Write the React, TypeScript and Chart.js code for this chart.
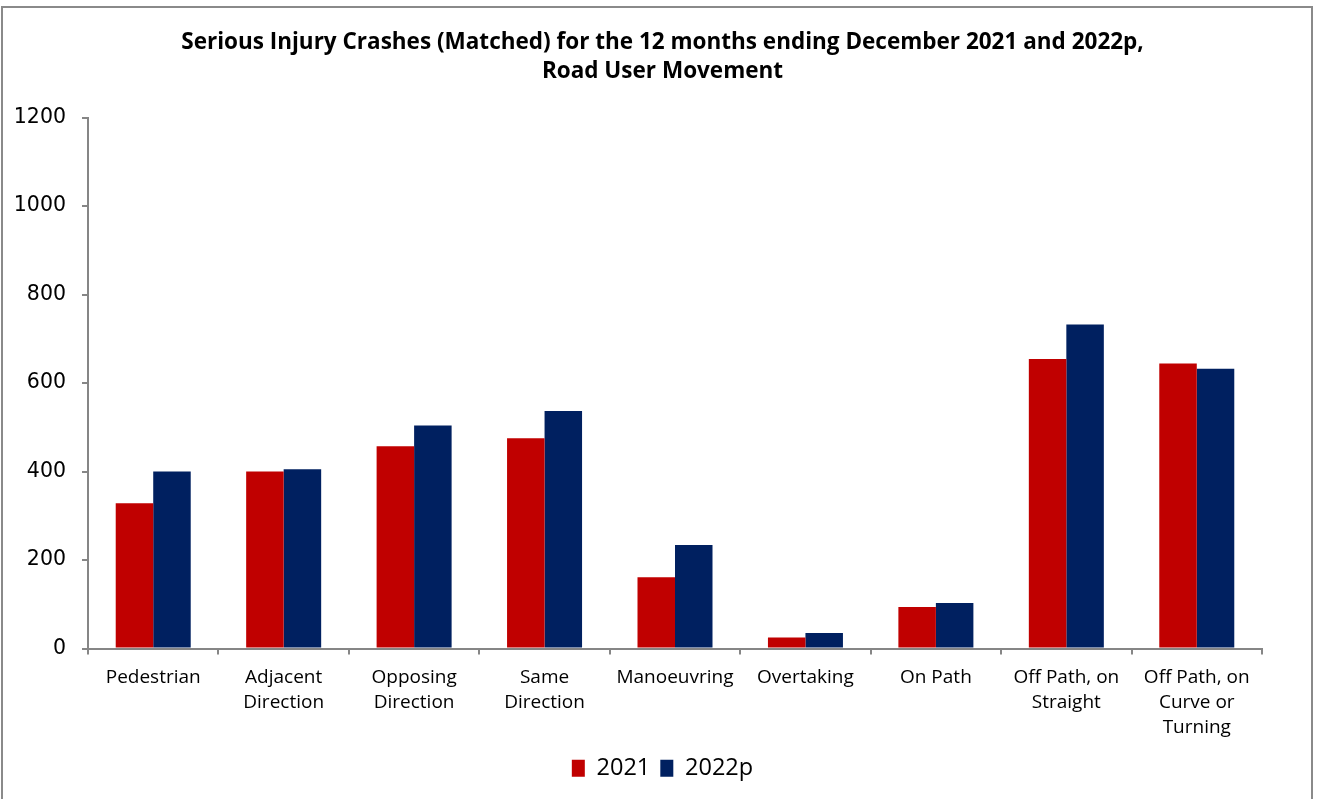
import React, { useEffect, useRef } from "react";
import { Chart, registerables } from "chart.js";

Chart.register(...registerables);

const titleLines = [
  "Serious Injury Crashes (Matched) for the 12 months ending December 2021 and 2022p,",
  "Road User Movement",
];
const categories: string[][] = [
  ["Pedestrian"],
  ["Adjacent", "Direction"],
  ["Opposing", "Direction"],
  ["Same", "Direction"],
  ["Manoeuvring"],
  ["Overtaking"],
  ["On Path"],
  ["Off Path, on", "Straight"],
  ["Off Path, on", "Curve or", "Turning"],
];
const seriesLabels = ["2021", "2022p"];
const values2021 = [328, 400, 457, 475, 161, 25, 94, 654, 644];
const values2022p = [400, 405, 504, 537, 234, 35, 103, 732, 632];
const yMin = 0;
const yMax = 1200;
const yStep = 200;

const RED = "#C00000";
const BLUE = "#002060";
const AXIS = "#868686";
const FONT = "'Open Sans', sans-serif";
const TICK_FONT = "'DejaVu Sans', sans-serif";

export default function App() {
  const canvasRef = useRef<HTMLCanvasElement | null>(null);

  useEffect(() => {
    let chart: Chart | null = null;
    let cancelled = false;
    const make = () => {
      if (cancelled || !canvasRef.current) return;
      chart = new Chart(canvasRef.current, {
        type: "bar",
        data: {
          labels: categories,
          datasets: [
            {
              label: seriesLabels[0],
              data: values2021,
              backgroundColor: RED,
              borderWidth: 0,
              categoryPercentage: 0.575,
              barPercentage: 1,
            },
            {
              label: seriesLabels[1],
              data: values2022p,
              backgroundColor: BLUE,
              borderWidth: 0,
              categoryPercentage: 0.575,
              barPercentage: 1,
            },
          ],
        },
        options: {
          animation: false,
          responsive: false,
          maintainAspectRatio: false,
          layout: { padding: { left: 0, right: 0, top: 0, bottom: 9 } },
          plugins: {
            title: {
              display: true,
              text: titleLines,
              color: "#000",
              font: { family: FONT, size: 22.5, weight: "bold", lineHeight: 1.3 },
              padding: { top: 28, bottom: 31 },
            },
            legend: {
              display: true,
              position: "bottom",
              labels: {
                color: "#000",
                boxWidth: 13,
                boxHeight: 17,
                padding: 10,
                font: { family: FONT, size: 23.5 },
              },
            },
            tooltip: { enabled: false },
          },
          scales: {
            x: {
              grid: {
                display: true,
                drawOnChartArea: false,
                drawTicks: true,
                tickLength: 6,
                color: AXIS,
                lineWidth: 2,
                offset: true,
              },
              border: { display: true, color: AXIS, width: 2 },
              ticks: {
                color: "#000",
                font: { family: FONT, size: 19, lineHeight: 1.33 },
                padding: 10,
                maxRotation: 0,
                autoSkip: false,
              },
              afterFit: (scale: any) => {
                scale.height = 98;
              },
            },
            y: {
              min: yMin,
              max: yMax,
              grid: {
                display: true,
                drawOnChartArea: false,
                drawTicks: true,
                tickLength: 6,
                color: AXIS,
                lineWidth: 2,
              },
              border: { display: true, color: AXIS, width: 2 },
              ticks: {
                stepSize: yStep,
                color: "#000",
                font: { family: TICK_FONT, size: 20.5 },
                padding: 16,
                callback: (v: any) => String(v),
              },
              afterFit: (scale: any) => {
                scale.width = 88;
              },
            },
            spacer: {
              type: "linear",
              position: "right",
              display: true,
              grid: { display: false },
              border: { display: false },
              ticks: { display: false },
              afterFit: (scale: any) => {
                scale.width = 63;
              },
            },
          },
        },
      });
    };
    const loads = [
      (document as any).fonts?.load?.(`bold 22px 'Open Sans'`),
      (document as any).fonts?.load?.(`19px 'Open Sans'`),
      (document as any).fonts?.load?.(`20px 'DejaVu Sans'`),
    ].filter(Boolean);
    Promise.all(loads).then(make, make);
    return () => {
      cancelled = true;
      if (chart) chart.destroy();
    };
  }, []);

  return (
    <div style={{ position: "fixed", left: 0, top: 0, width: 1325, height: 799, background: "#fff", overflow: "hidden" }}>
      <canvas ref={canvasRef} width={1325} height={799} style={{ position: "absolute", left: 0, top: 0, width: 1325, height: 799 }} />
      <div
        style={{
          position: "absolute",
          left: 1,
          top: 6,
          width: 1312,
          height: 810,
          border: "2px solid #8a8a8a",
          boxSizing: "border-box",
          pointerEvents: "none",
        }}
      />
    </div>
  );
}
